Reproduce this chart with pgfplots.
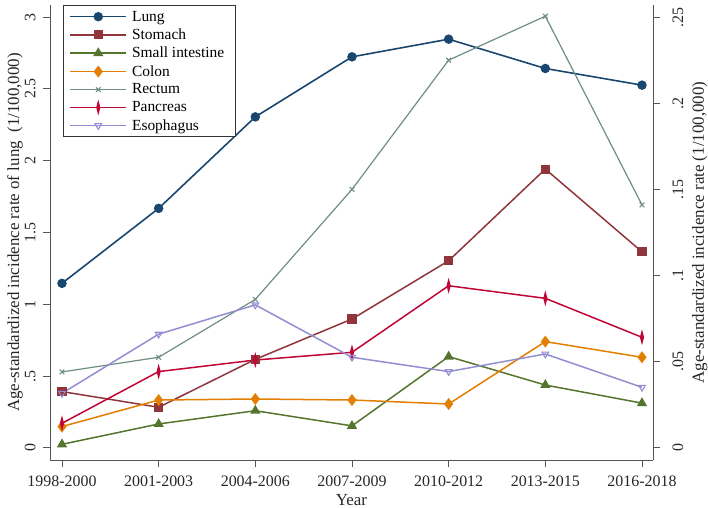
\documentclass[border=0pt]{standalone}
\usepackage{fontspec}
\setmainfont{Liberation Serif}
\usepackage{pgfplots}
\pgfplotsset{compat=1.18}
\definecolor{cLung}{HTML}{1A476F}
\definecolor{cStom}{HTML}{90353B}
\definecolor{cSmall}{HTML}{55752F}
\definecolor{cColon}{HTML}{E37E00}
\definecolor{cRect}{HTML}{6E8E84}
\definecolor{cPanc}{HTML}{C10534}
\definecolor{cEso}{HTML}{938DD2}
\definecolor{axgray}{HTML}{555555}
\begin{document}
\begin{tikzpicture}
\pgfplotsset{
  base/.style={
    scale only axis, width=603bp, height=455bp,
    xmin=-0.124, xmax=6.114,
    tick align=outside, major tick length=7bp,
    axis line style={axgray, line width=0.9pt},
    tick style={axgray, line width=0.9pt},
    /pgf/number format/assume math mode=true,
    ticklabel style={font=\fontsize{16}{19}\selectfont, text=black!85},
    label style={font=\fontsize{17}{20}\selectfont, text=black!85},
    clip=false,
  },
  legend image code/.code={
    \draw[mark repeat=2,mark phase=2] plot coordinates {(0bp,0bp) (28bp,0bp) (56bp,0bp)};
  },
}
\begin{axis}[base,
  axis y line*=left, axis x line*=bottom,
  ymin=-0.084, ymax=3.084,
  xtick={0,1,2,3,4,5,6},
  xticklabels={1998-2000,2001-2003,2004-2006,2007-2009,2010-2012,2013-2015,2016-2018},
  xticklabel shift=5bp,
  ytick={0,0.5,1,1.5,2,2.5,3},
  yticklabels={0,.5,1,1.5,2,2.5,3},
  yticklabel style={rotate=90, anchor=south},
  yticklabel shift=4bp,
  xlabel={Year},
  ylabel={Age-standardized incidence rate of lung\ \ (1/100,000)},
  xlabel style={yshift=-1bp},
  ylabel style={yshift=-5bp},
]
\coordinate (bl) at (rel axis cs:0,0);
\coordinate (tr) at (rel axis cs:1,1);
\addplot[cLung, line width=1.6bp, mark=*, mark size=3.9bp] coordinates {
 (0,1.146) (1,1.668) (2,2.305) (3,2.723) (4,2.846) (5,2.642) (6,2.526)};
\end{axis}
\begin{axis}[base,
  axis y line*=right, axis x line=none,
  ymin=-0.007, ymax=0.257,
  ytick={0,0.05,0.1,0.15,0.2,0.25},
  yticklabels={0,.05,.1,.15,.2,.25},
  yticklabel style={rotate=90, anchor=north},
  yticklabel shift=9bp,
  ylabel={Age-standardized incidence rate (1/100,000)},
  ylabel style={yshift=-2bp},
  legend style={at={(axis description cs:0.0216,0.999)}, anchor=north west,
    draw=black!80, line width=0.9pt, font=\fontsize{15.5}{17}\selectfont,
    row sep=2.2bp, inner xsep=6bp, inner ysep=3bp,
    nodes={inner xsep=5bp}},
  legend cell align=left,
]
\addlegendimage{cLung, line width=1.6bp, mark=*, mark size=3.9bp}
\addlegendentry{Lung}
\addplot[cStom, line width=1.5bp, mark=square*, mark size=3.8bp] coordinates {
 (0,0.0327) (1,0.0236) (2,0.0514) (3,0.0748) (4,0.1086) (5,0.1618) (6,0.1138)};
\addlegendentry{Stomach}
\addplot[cSmall, line width=1.5bp, mark=triangle*, mark size=4.4bp] coordinates {
 (0,0.0021) (1,0.0139) (2,0.0216) (3,0.0128) (4,0.0530) (5,0.0365) (6,0.0260)};
\addlegendentry{Small intestine}
\addplot[cColon, line width=1.5bp, mark=diamond*, mark size=4.8bp] coordinates {
 (0,0.0124) (1,0.0278) (2,0.0284) (3,0.0278) (4,0.0255) (5,0.0617) (6,0.0526)};
\addlegendentry{Colon}
\addplot[cRect, line width=1.2bp, mark=x, mark size=3.3bp, mark options={line width=1.1bp}] coordinates {
 (0,0.0441) (1,0.0526) (2,0.0862) (3,0.1500) (4,0.2250) (5,0.2505) (6,0.1410)};
\addlegendentry{Rectum}
\addplot[cPanc, line width=1.5bp, mark=diamond*, mark size=5bp, mark options={xscale=0.35}] coordinates {
 (0,0.0143) (1,0.0443) (2,0.0510) (3,0.0555) (4,0.0941) (5,0.0868) (6,0.0642)};
\addlegendentry{Pancreas}
\addplot[cEso, line width=1.5bp, mark=triangle, mark size=3.8bp, mark options={rotate=180, line width=1.1bp}] coordinates {
 (0,0.0317) (1,0.0660) (2,0.0830) (3,0.0526) (4,0.0443) (5,0.0545) (6,0.0352)};
\addlegendentry{Esophagus}
\end{axis}
\pgfresetboundingbox
\path[use as bounding box] ([shift={(-50bp,-48bp)}]bl) rectangle ([shift={(55bp,5bp)}]tr);
\end{tikzpicture}
\end{document}
